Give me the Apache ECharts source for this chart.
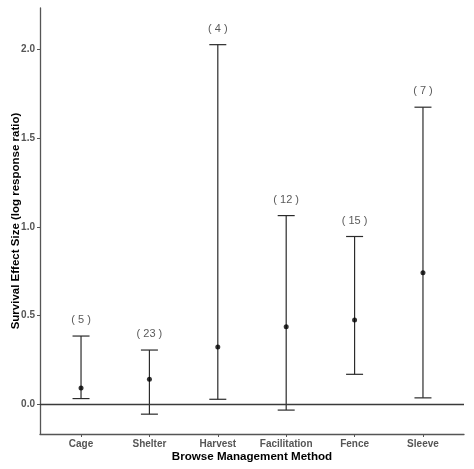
<!DOCTYPE html>
<html>
<head>
<meta charset="utf-8">
<script src="https://cdn.jsdelivr.net/npm/echarts@6/dist/echarts.min.js"></script>
<style>
html,body{margin:0;padding:0;background:#fff;}
#c{width:474px;height:469px;}
</style>
</head>
<body>
<div id="c"></div>
<script>
const categories = ['Cage', 'Shelter', 'Harvest', 'Facilitation', 'Fence', 'Sleeve'];
const meanValues = [0.090, 0.139, 0.321, 0.436, 0.473, 0.741];
const lowerValues = [0.030, -0.058, 0.026, -0.035, 0.167, 0.034];
const upperValues = [0.383, 0.304, 2.028, 1.063, 0.945, 1.675];
const sampleSizes = [5, 23, 4, 12, 15, 7];
const labelOffset = 0.09;
const yTickValues = [0, 0.5, 1, 1.5, 2];

const chart = echarts.init(document.getElementById('c'), null, {renderer: 'canvas'});

const errData = categories.map((c, i) => [i, lowerValues[i], upperValues[i]]);
const meanData = categories.map((c, i) => [i, meanValues[i]]);
const labelData = categories.map((c, i) => [i, upperValues[i] + labelOffset, sampleSizes[i]]);

const lineColor = '#2b2b2b';
const axisColor = '#555555';
const font = 'Liberation Sans, Arial, sans-serif';

chart.setOption({
  animation: false,
  grid: {left: 40, right: 10, top: 8, bottom: 35, containLabel: false, outerBoundsMode: 'none'},
  xAxis: {
    type: 'value',
    min: -0.6,
    max: 5.6,
    axisLine: {show: true, onZero: false, lineStyle: {color: axisColor, width: 1.3}},
    axisTick: {show: true, length: 3, customValues: [0,1,2,3,4,5], lineStyle: {color: axisColor}},
    axisLabel: {
      customValues: [0,1,2,3,4,5],
      formatter: v => categories[Math.round(v)] || '',
      color: '#555555', fontSize: 10, fontWeight: 'bold',
      fontFamily: font, margin: 5
    },
    splitLine: {show: false},
    name: 'Browse Management Method',
    nameLocation: 'middle',
    nameMoveOverlap: false,
    nameGap: 17,
    nameTextStyle: {color: '#000', fontSize: 11.6, fontWeight: 'bold', fontFamily: font}
  },
  yAxis: {
    type: 'value',
    min: -0.17,
    max: 2.235,
    axisLine: {show: true, onZero: false, lineStyle: {color: axisColor, width: 1.3}},
    axisTick: {show: true, length: 3, customValues: yTickValues, lineStyle: {color: axisColor}},
    axisLabel: {
      customValues: yTickValues,
      formatter: v => v.toFixed(1),
      color: '#555555', fontSize: 10, fontWeight: 'bold',
      fontFamily: font, margin: 5
    },
    splitLine: {show: false},
    name: 'Survival Effect Size (log response ratio)',
    nameLocation: 'middle',
    nameMoveOverlap: false,
    nameGap: 18,
    nameTextStyle: {color: '#000', fontSize: 11.5, fontWeight: 'bold', fontFamily: font}
  },
  series: [
    {
      type: 'custom',
      data: errData,
      silent: true,
      renderItem: function (params, api) {
        const x = api.value(0);
        const lo = api.coord([x, api.value(1)]);
        const hi = api.coord([x, api.value(2)]);
        const hw = 8.5;
        const style = {stroke: lineColor, lineWidth: 1.2};
        return {
          type: 'group',
          children: [
            {type: 'line', shape: {x1: lo[0], y1: lo[1], x2: hi[0], y2: hi[1]}, style: style},
            {type: 'line', shape: {x1: lo[0] - hw, y1: lo[1], x2: lo[0] + hw, y2: lo[1]}, style: style},
            {type: 'line', shape: {x1: hi[0] - hw, y1: hi[1], x2: hi[0] + hw, y2: hi[1]}, style: style}
          ]
        };
      },
      markLine: {
        silent: true,
        symbol: 'none',
        label: {show: false},
        lineStyle: {color: '#3a3a3a', width: 1.3, type: 'solid'},
        data: [{yAxis: 0}]
      },
      z: 2
    },
    {
      type: 'scatter',
      data: meanData,
      symbol: 'circle',
      symbolSize: 5,
      itemStyle: {color: '#000'},
      silent: true,
      z: 3
    },
    {
      type: 'scatter',
      data: labelData,
      symbolSize: 0,
      silent: true,
      label: {
        show: true,
        position: 'inside',
        formatter: p => '( ' + p.value[2] + ' )',
        color: '#2e2e2e',
        fontSize: 11,
        fontFamily: font
      }
    }
  ]
});
</script>
</body>
</html>
